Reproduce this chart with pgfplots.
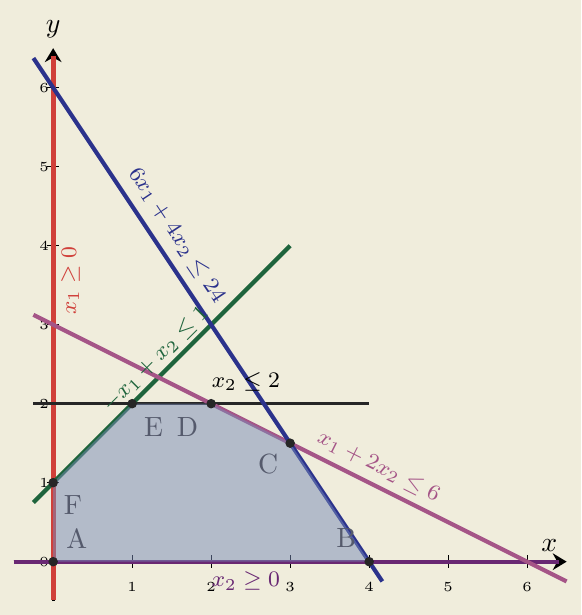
\documentclass[border=0pt]{standalone}
\usepackage{pgfplots}
\pgfplotsset{compat=1.18}
\usetikzlibrary{arrows.meta,backgrounds}
\definecolor{bg}{RGB}{240,237,220}
\definecolor{cred}{RGB}{208,64,58}
\definecolor{cblue}{RGB}{43,50,140}
\definecolor{cgreen}{RGB}{30,100,60}
\definecolor{cmauve}{RGB}{165,85,135}
\definecolor{cpurple}{RGB}{105,40,115}
\definecolor{cfill}{RGB}{120,139,184}
\definecolor{clab}{RGB}{85,90,108}
\begin{document}
\begin{tikzpicture}[show background rectangle, background rectangle/.style={fill=bg, draw=none}, inner frame sep=0pt]
\begin{axis}[
  x=1cm, y=1cm,
  axis lines=middle,
  xmin=-0.5, xmax=6.5, ymin=-0.5, ymax=6.5,
  clip=false,
  axis line style={line width=1.1pt, black, -{Stealth[length=5pt,width=6pt]}},
  xtick={1,2,3,4,5,6}, ytick={0,1,2,3,4,5,6},
  hide obscured x ticks=false, hide obscured y ticks=false,
  tick style={black, line width=0.4pt},
  major tick length=4.5pt, tick align=center,
  ticklabel style={font=\tiny},
  xticklabel style={yshift=-1.6pt},
  yticklabel style={xshift=4.2pt},
  xlabel={$x$}, ylabel={$y$},
  every axis x label/.style={at={(axis cs:6.28,0.0)}, anchor=south},
  every axis y label/.style={at={(axis cs:0,6.5)}, anchor=south},
]
\path (axis cs:-0.673,-0.675) rectangle (axis cs:6.683,7.11);
% constraint lines
\addplot[cpurple, line width=1.5pt] coordinates {(-0.5,0) (6.4,0)};
\addplot[cred, line width=1.7pt] coordinates {(0,-0.48) (0,6.4)};
\addplot[black!85, line width=1.2pt] coordinates {(-0.25,2) (4,2)};
\addplot[cgreen, line width=1.5pt] coordinates {(-0.25,0.75) (3,4)};
\addplot[cmauve, line width=1.5pt] coordinates {(-0.25,3.125) (6.5,-0.25)};
\addplot[cblue, line width=1.5pt] coordinates {(-0.25,6.375) (4.1667,-0.25)};
% feasible region
\addplot[fill=cfill, fill opacity=0.5, draw=none] coordinates {(0,0) (4,0) (3,1.5) (2,2) (1,2) (0,1)} -- cycle;
% vertices
\addplot[only marks, mark=*, mark size=1.5pt, black!85] coordinates {(0,0) (4,0) (3,1.5) (2,2) (1,2) (0,1)};
% vertex labels
\node[clab] at (axis cs:0.30,0.29) {A};
\node[clab] at (axis cs:3.71,0.30) {B};
\node[clab] at (axis cs:2.72,1.23) {C};
\node[clab] at (axis cs:1.70,1.71) {D};
\node[clab] at (axis cs:1.27,1.71) {E};
\node[clab] at (axis cs:0.25,0.72) {F};
% constraint labels
\node[cred, rotate=90, font=\footnotesize] at (axis cs:0.22,3.56) {$x_1 \geq 0$};
\node[cblue, rotate=-56.31, font=\footnotesize] at (axis cs:1.56,4.13) {$6x_1 + 4x_2 \leq 24$};
\node[cgreen, rotate=45, font=\footnotesize] at (axis cs:1.30,2.56) {$-x_1 + x_2 \leq 1$};
\node[black, font=\footnotesize] at (axis cs:2.44,2.27) {$x_2 \leq 2$};
\node[cmauve, rotate=-26.57, font=\footnotesize] at (axis cs:4.12,1.20) {$x_1 + 2x_2 \leq 6$};
\node[cpurple, font=\footnotesize] at (axis cs:2.44,-0.25) {$x_2 \geq 0$};
\end{axis}
\end{tikzpicture}
\end{document}
